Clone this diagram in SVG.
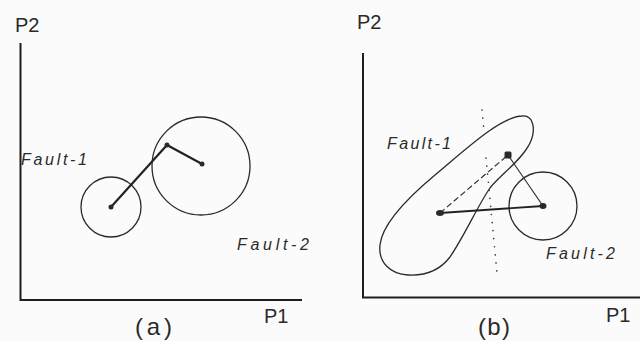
<svg xmlns="http://www.w3.org/2000/svg" width="640" height="341" viewBox="0 0 640 341">
<style>
.ax{stroke:#1e1e1e;stroke-width:2;fill:none}
.ol{stroke:#2a2a2a;stroke-width:1.3;fill:none}
.lb{font-family:"Liberation Sans",Arial,sans-serif;font-size:20px;fill:#2a2a2a}
.cap{font-family:"Liberation Sans",Arial,sans-serif;font-size:24px;fill:#2a2a2a}
.ft{font-family:"Liberation Sans",Arial,sans-serif;font-size:16px;font-style:italic;fill:#2a2a2a}
.dot{fill:#2a2a2a}
</style>
<rect width="640" height="341" fill="#fbfbfb"/>
<g id="panel-a">
  <g id="axes-a">
    <path class="ax" d="M20.5 43 V300 H302"/>
    <text class="lb" x="15" y="32">P2</text>
    <text class="lb" x="264" y="323">P1</text>
    <text class="cap" x="135" y="335" textLength="37" lengthAdjust="spacing">(a)</text>
  </g>
  <g id="fault1-a">
    <circle class="ol" cx="111" cy="207" r="30"/>
    <text class="ft" x="21" y="165" textLength="66" lengthAdjust="spacing">Fault-1</text>
  </g>
  <g id="fault2-a">
    <circle class="ol" cx="201" cy="166" r="49"/>
    <text class="ft" x="237" y="250" textLength="72" lengthAdjust="spacing">Fault-2</text>
  </g>
  <g id="connectors-a">
    <polyline points="111,207 167,145 202,164" fill="none" stroke="#222" stroke-width="2.2" stroke-linejoin="round"/>
    <circle class="dot" cx="111" cy="207" r="2.5"/>
    <circle class="dot" cx="167" cy="145" r="2.5"/>
    <circle class="dot" cx="202" cy="164" r="2.5"/>
  </g>
</g>
<g id="panel-b">
  <g id="axes-b">
    <path class="ax" d="M363 53 V297.5 H640"/>
    <text class="lb" x="357" y="29">P2</text>
    <text class="lb" x="606" y="322">P1</text>
    <text class="cap" x="478" y="335" textLength="32" lengthAdjust="spacing">(b)</text>
  </g>
  <g id="fault1-b">
    <path class="ol" d="M522 116 C534 115,536 130,530 143 C522 160,500 175,490 188 C478 205,465 235,450 257 C440 270,425 276,408 275 C390 274,378 262,380 245 C382 225,405 200,435 175 C465 150,500 117,522 116 Z"/>
    <text class="ft" x="387" y="149" textLength="64" lengthAdjust="spacing">Fault-1</text>
  </g>
  <g id="fault2-b">
    <circle class="ol" cx="543" cy="206" r="34"/>
    <text class="ft" x="546" y="259" textLength="69" lengthAdjust="spacing">Fault-2</text>
  </g>
  <g id="boundary-b">
    <line x1="482" y1="110" x2="484" y2="131" stroke="#333" stroke-width="1.6" stroke-dasharray="0.1 8" stroke-linecap="round"/>
    <line x1="486" y1="158" x2="497" y2="273" stroke="#333" stroke-width="1.6" stroke-dasharray="0.1 8" stroke-linecap="round"/>
  </g>
  <g id="connectors-b">
    <line x1="440" y1="213" x2="543" y2="206" stroke="#222" stroke-width="1.8"/>
    <line x1="508" y1="155" x2="543" y2="206" stroke="#333" stroke-width="1.2"/>
    <line x1="440" y1="213" x2="508" y2="155" stroke="#333" stroke-width="1.2" stroke-dasharray="6 3"/>
    <ellipse class="dot" cx="440" cy="213" rx="4" ry="3"/>
    <rect class="dot" x="504.5" y="151.5" width="7" height="7" rx="1.5"/>
    <ellipse class="dot" cx="543" cy="206" rx="3.5" ry="3"/>
  </g>
</g>
</svg>
